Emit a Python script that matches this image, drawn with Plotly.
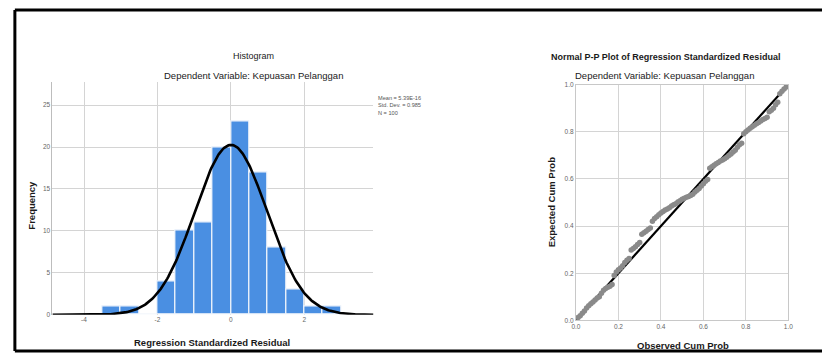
import plotly.graph_objects as go
import math

W, H = 822, 356

# ---------------- data ----------------
bin_left = [-3.5, -3.0, -2.5, -2.0, -1.5, -1.0, -0.5, 0.0, 0.5, 1.0, 1.5, 2.0, 2.5]
bin_counts = [1, 1, 0, 4, 10, 11, 20, 23, 17, 8, 3, 1, 1]
bin_width = 0.5
res_mean = 5.39e-16
res_std = 0.985
res_n = 100
hist_xticks = [-4, -2, 0, 2]
hist_yticks = [0, 5, 10, 15, 20, 25]

pp_observed = [i / 100 for i in range(1, 101)]
pp_expected = [
    0.012, 0.020, 0.030, 0.040, 0.052, 0.062, 0.070, 0.078, 0.086, 0.095,
    0.100, 0.115, 0.128, 0.135, 0.140, 0.145, 0.152, 0.190, 0.205, 0.215,
    0.222, 0.232, 0.245, 0.255, 0.262, 0.298, 0.305, 0.312, 0.322, 0.330,
    0.365, 0.372, 0.378, 0.385, 0.392, 0.420, 0.432, 0.440, 0.448, 0.455,
    0.462, 0.468, 0.472, 0.478, 0.485, 0.490, 0.495, 0.502, 0.508, 0.514,
    0.518, 0.522, 0.526, 0.530, 0.535, 0.545, 0.552, 0.560, 0.570, 0.580,
    0.590, 0.598, 0.645, 0.652, 0.658, 0.664, 0.670, 0.676, 0.680, 0.686,
    0.692, 0.700, 0.706, 0.714, 0.722, 0.735, 0.745, 0.752, 0.792, 0.800,
    0.808, 0.815, 0.822, 0.828, 0.834, 0.840, 0.846, 0.852, 0.856, 0.862,
    0.885, 0.892, 0.900, 0.915, 0.925, 0.962, 0.972, 0.982, 0.990, 0.996,
]
pp_ticks = [0.0, 0.2, 0.4, 0.6, 0.8, 1.0]

# ---------------- helpers ----------------
def px(x):
    return x / W

def py(y):
    return 1 - y / H

FONT = "Arial, Liberation Sans, sans-serif"
TXT = "#1a1a1a"
GRID = "#d4d4d4"
TICKC = "#666666"

fig = go.Figure()

# histogram bars
centers = [b + bin_width / 2 for b in bin_left]
fig.add_trace(go.Bar(
    x=centers, y=bin_counts, width=bin_width,
    marker=dict(color="#4a8fe2", line=dict(color="#f2f6fb", width=1.2)),
    xaxis="x", yaxis="y", showlegend=False,
))

# normal curve overlay
xr = (-4.86, 3.88)
nx = 300
cx = [xr[0] + (xr[1] - xr[0]) * k / (nx - 1) for k in range(nx)]
cy = [res_n * bin_width / (res_std * math.sqrt(2 * math.pi)) *
      math.exp(-0.5 * ((v - res_mean) / res_std) ** 2) for v in cx]
fig.add_trace(go.Scatter(
    x=cx, y=cy, mode="lines", line=dict(color="black", width=2.6),
    xaxis="x", yaxis="y", showlegend=False, hoverinfo="skip",
))

# P-P diagonal
fig.add_trace(go.Scatter(
    x=[0, 1], y=[0, 1], mode="lines", line=dict(color="black", width=2.2),
    xaxis="x2", yaxis="y2", showlegend=False,
))
# P-P points
fig.add_trace(go.Scatter(
    x=pp_observed, y=pp_expected, mode="markers",
    marker=dict(color="#8a8a8a", size=5.5, line=dict(width=0)),
    xaxis="x2", yaxis="y2", showlegend=False,
))

tickfont = dict(family=FONT, size=6.5, color=TICKC)

fig.update_layout(
    width=W, height=H, autosize=False,
    margin=dict(l=0, r=0, t=0, b=0),
    paper_bgcolor="white", plot_bgcolor="white",
    bargap=0,
    xaxis=dict(
        domain=[px(48), px(373)], range=list(xr), anchor="y",
        tickvals=hist_xticks, ticktext=[str(t) for t in hist_xticks],
        showgrid=True, gridcolor=GRID, gridwidth=1, zeroline=False,
        showline=False, ticks="", tickfont=tickfont,
    ),
    yaxis=dict(
        domain=[py(317), py(80)], range=[0, 27.7], anchor="x",
        tickvals=hist_yticks, ticktext=[str(t) for t in hist_yticks],
        showgrid=True, gridcolor=GRID, gridwidth=1, zeroline=False,
        showline=True, linecolor="#bdbdbd", linewidth=1, ticks="",
        tickfont=tickfont,
    ),
    xaxis2=dict(
        domain=[px(578), px(793)], range=[0, 1], anchor="y2",
        tickvals=pp_ticks, ticktext=[f"{t:.1f}" for t in pp_ticks],
        showgrid=True, gridcolor=GRID, gridwidth=1, zeroline=False,
        showline=True, mirror=True, linecolor="#c8c8c8", linewidth=1,
        ticks="", tickfont=tickfont,
    ),
    yaxis2=dict(
        domain=[py(322.7), py(82.3)], range=[0, 1], anchor="x2",
        tickvals=pp_ticks, ticktext=[f"{t:.1f}" for t in pp_ticks],
        showgrid=True, gridcolor=GRID, gridwidth=1, zeroline=False,
        showline=True, mirror=True, linecolor="#c8c8c8", linewidth=1,
        ticks="", tickfont=tickfont,
    ),
)

def ann(text, x, y, size, bold=False, angle=0, color=TXT, xanchor="center"):
    fig.add_annotation(
        text=f"<b>{text}</b>" if bold else text,
        x=px(x), y=py(y), xref="paper", yref="paper",
        xanchor=xanchor, yanchor="middle", showarrow=False, textangle=angle,
        font=dict(family=FONT, size=size, color=color),
    )

# Histogram texts
ann("Histogram", 252, 53, 9)
ann("Dependent Variable: Kepuasan Pelanggan", 252, 73, 9.5)
ann("Regression Standardized Residual", 210, 345, 9.5, bold=True)
ann("Frequency", 27, 205, 9.5, bold=True, angle=-90)
stats = ["Mean = 5.39E-16", "Std. Dev. = 0.985", "N = 100"]
fig.add_annotation(
    text="<br>".join(stats), x=px(376), y=py(91), xref="paper", yref="paper",
    xanchor="left", yanchor="top", align="left", showarrow=False,
    font=dict(family=FONT, size=5.6, color="#555555"),
)

# P-P texts
ann("Normal P-P Plot of Regression Standardized Residual", 669, 54, 9, bold=True)
ann("Dependent Variable: Kepuasan Pelanggan", 668, 73, 9.5)
ann("Observed Cum Prob", 686, 348, 9.5, bold=True)
ann("Expected Cum Prob", 553, 202, 9.5, bold=True, angle=-90)

# outer black frame
for (x0, y0, x1, y1) in [(10, 6, 830, 6), (10, 6, 10, 354), (10, 354, 830, 354)]:
    fig.add_shape(type="line", xref="paper", yref="paper",
                  x0=px(x0), y0=py(y0), x1=px(x1), y1=py(y1),
                  line=dict(color="black", width=3))

fig.write_html(
    "out.html",
    config={"displayModeBar": False},
    post_script="document.body.style.margin='0';document.body.style.padding='0';"
                "document.documentElement.style.overflow='hidden';",
)
